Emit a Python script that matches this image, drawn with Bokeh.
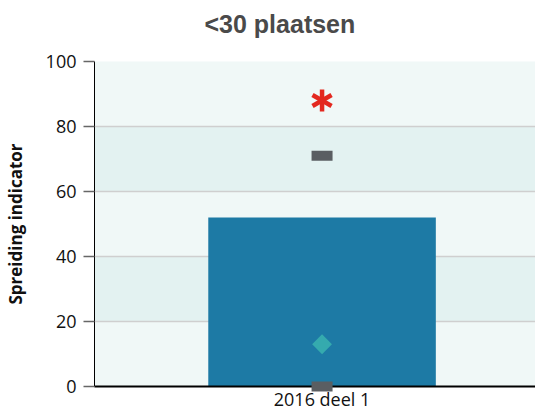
import math
from bokeh.plotting import figure
from bokeh.models import Range1d, FixedTicker, Title
from bokeh.embed import file_html
from bokeh.resources import INLINE

# Data
categories = ["2016 deel 1"]
bar_values = [52]
upper_values = [71]      # grey dash (upper)
lower_values = [0]       # grey dash (lower)
star_values = [88]       # red asterisk
diamond_values = [13]    # teal diamond
y_ticks = [0, 20, 40, 60, 80, 100]

xs = list(range(len(categories)))

p = figure(width=535, height=413, output_backend="svg", toolbar_location=None,
           x_range=Range1d(-0.5, 0.469), y_range=Range1d(0, 100),
           min_border_left=93, min_border_top=61, min_border_bottom=27,
           min_border_right=0, outline_line_color=None,
           background_fill_color="#f0f8f7", border_fill_color="white")

p.title = Title(text="<30 plaatsen", align="left", offset=110, text_font="Liberation Sans",
                text_font_size="25px", text_font_style="bold", text_color="#4a4a4a",
                standoff=0)
p.add_layout(Title(text=" ", text_font_size="20px", standoff=0), "above")

p.vbar(x=xs, top=bar_values, width=0.5, bottom=0, fill_color="#1d7aa5", line_color=None)
p.rect(x=xs, y=upper_values, width=21, height=10, width_units="screen",
       height_units="screen", fill_color="#5a5e62", line_color=None)
p.rect(x=xs, y=lower_values, width=21, height=10, width_units="screen",
       height_units="screen", fill_color="#5a5e62", line_color=None, level="overlay")
for ang in (math.pi / 2, math.pi / 6, -math.pi / 6):
    p.scatter(x=xs, y=star_values, marker="dash", size=22, angle=ang,
              line_color="#e3281f", line_width=4.5)
p.scatter(x=xs, y=diamond_values, marker="square", size=14, angle=math.pi / 4,
          fill_color="#35aaae", line_color=None)

# grid
p.xgrid.visible = False
p.ygrid.ticker = FixedTicker(ticks=y_ticks)
p.ygrid.grid_line_color = "#cfcfcf"
p.ygrid.grid_line_width = 1.5
p.ygrid.band_fill_color = "#e3f2f1"
p.ygrid.band_fill_alpha = 1.0

# y axis
p.yaxis.ticker = FixedTicker(ticks=y_ticks)
p.yaxis.axis_label = "Spreiding indicator"
p.yaxis.axis_label_text_font = "Open Sans"
p.yaxis.axis_label_text_font_style = "bold"
p.yaxis.axis_label_text_font_size = "17px"
p.yaxis.axis_label_text_color = "#111111"
p.yaxis.axis_label_standoff = 16
p.yaxis.major_label_text_font = "Open Sans"
p.yaxis.major_label_text_font_size = "18px"
p.yaxis.major_label_text_color = "#111111"
p.yaxis.major_label_standoff = 7
p.yaxis.axis_line_color = "black"
p.yaxis.major_tick_line_color = "#666666"
p.yaxis.major_tick_line_width = 1.5
p.yaxis.major_tick_out = 11
p.yaxis.major_tick_in = 0
p.yaxis.minor_tick_line_color = None

# x axis
p.xaxis.ticker = FixedTicker(ticks=xs)
p.xaxis.major_label_overrides = {x: c for x, c in zip(xs, categories)}
p.xaxis.major_label_text_font = "Open Sans"
p.xaxis.major_label_text_font_size = "18px"
p.xaxis.major_label_text_color = "#111111"
p.xaxis.axis_line_color = "black"
p.xaxis.axis_line_width = 2
p.xaxis.major_tick_line_color = None
p.xaxis.major_tick_out = 0
p.xaxis.major_tick_in = 0
p.xaxis.minor_tick_line_color = None
p.xaxis.major_label_standoff = 0

open("out.html", "w").write(file_html(p, INLINE))
